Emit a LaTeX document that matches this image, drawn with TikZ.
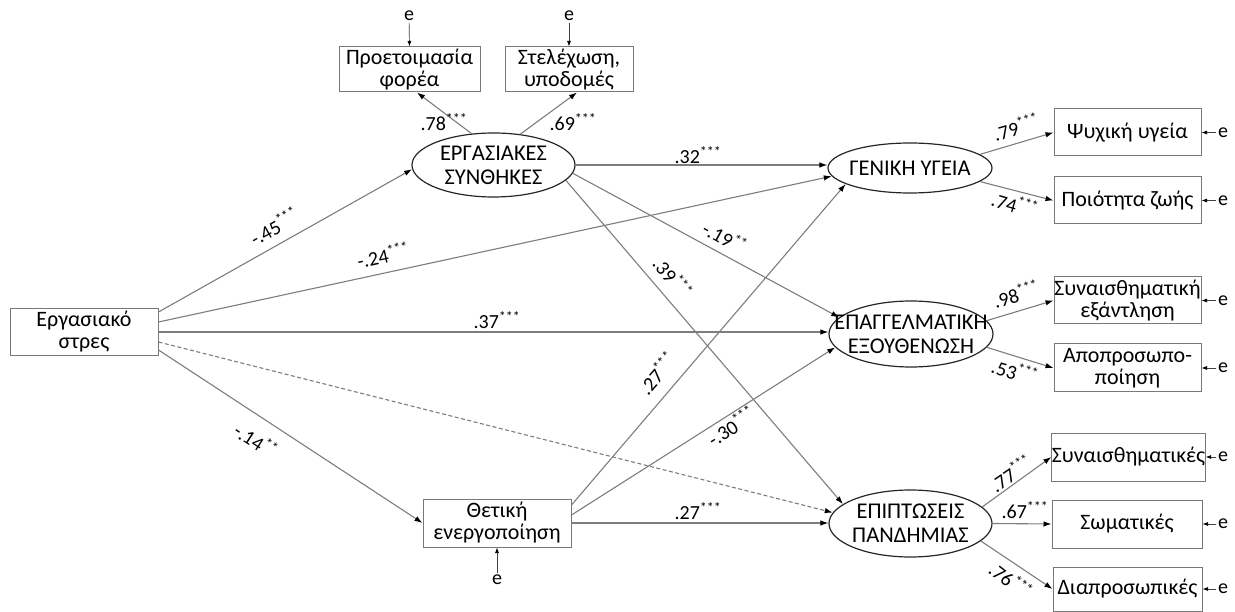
\documentclass[tikz,border=0pt]{standalone}
\usepackage{fontspec}
\setmainfont{Carlito}
\usetikzlibrary{shapes.geometric,arrows.meta}
\definecolor{boxgray}{RGB}{120,120,120}
\definecolor{linegray}{RGB}{125,125,125}
\begin{document}
\begin{tikzpicture}[x=1pt,y=-1pt,
 obs/.style={draw=boxgray, line width=1pt, inner sep=0pt, align=center, font=\fontsize{22}{22}\selectfont},
 lat/.style={ellipse, draw=black!85, line width=1.2pt, inner sep=0pt},
 lattxt/.style={align=center, font=\fontsize{22.5}{24}\selectfont, inner sep=0pt},
 pth/.style={draw=linegray, line width=1.1pt, -{Latex[length=8pt,width=5.5pt,color=black]}},
 coef/.style={font=\fontsize{20}{20}\selectfont, inner sep=0pt},
 err/.style={font=\fontsize{20}{20}\selectfont, inner sep=1.5pt},
 errarr/.style={draw=black!75, line width=0.7pt, -{Latex[length=5.5pt,width=4pt,color=black]}},
]
\useasboundingbox (0,0) rectangle (1235,612);

% observed variables
\node[obs, minimum width=148pt, minimum height=47pt] (stress) at (84,332) {Εργασιακό\\στρες};
\node[obs, minimum width=141pt, minimum height=45pt] (proet) at (409.5,69.5) {Προετοιμασία\\φορέα};
\node[obs, minimum width=128pt, minimum height=45pt] (stel) at (569,69.5) {Στελέχωση,\\υποδομές};
\node[obs, minimum width=148pt, minimum height=48pt] (thet) at (497,523) {Θετική\\ενεργοποίηση};
\node[obs, minimum width=147pt, minimum height=47pt] (psy) at (1127.5,132.5) {Ψυχική υγεία};
\node[obs, minimum width=147pt, minimum height=47pt] (poi) at (1127.5,200.5) {Ποιότητα ζωής};
\node[obs, minimum width=147pt, minimum height=47pt] (syn) at (1127.5,300.5) {Συναισθηματική\\εξάντληση};
\node[obs, minimum width=147pt, minimum height=48pt] (apo) at (1127.5,368) {Αποπροσωπο-\\ποίηση};
\node[obs, minimum width=151pt, minimum height=48pt] (syna) at (1128.5,457) {Συναισθηματικές};
\node[obs, minimum width=150pt, minimum height=48pt] (som) at (1127,524) {Σωματικές};
\node[obs, minimum width=149pt, minimum height=44pt] (dia) at (1127.5,589) {Διαπροσωπικές};

% latent variables
\node[lat, minimum width=163pt, minimum height=64pt, label={[lattxt]center:{ΕΡΓΑΣΙΑΚΕΣ\\ΣΥΝΘΗΚΕΣ}}] (erg) at (493.5,165) {};
\node[lat, minimum width=164pt, minimum height=50pt, label={[lattxt]center:{ΓΕΝΙΚΗ ΥΓΕΙΑ}}] (gen) at (910,168) {};
\node[lat, minimum width=164pt, minimum height=66pt, label={[lattxt]center:{ΕΠΑΓΓΕΛΜΑΤΙΚΗ\\ΕΞΟΥΘΕΝΩΣΗ}}] (epag) at (911,334) {};
\node[lat, minimum width=163pt, minimum height=67pt, label={[lattxt]center:{ΕΠΙΠΤΩΣΕΙΣ\\ΠΑΝΔΗΜΙΑΣ}}] (epip) at (910.5,523.5) {};

% error terms
\node[err] (e1) at (409,16) {e};
\node[err] (e2) at (569,16) {e};
\node[err] (e3) at (497,580) {e};
\node[err] (e4) at (1223,132.5) {e};
\node[err] (e5) at (1223,200.5) {e};
\node[err] (e6) at (1223,300.5) {e};
\node[err] (e7) at (1223,368) {e};
\node[err] (e8) at (1223,457) {e};
\node[err] (e9) at (1223,524) {e};
\node[err] (e10) at (1223,589) {e};

\draw[errarr] (e1) -- (proet.north);
\draw[errarr] (e2) -- (stel.north);
\draw[errarr] (e3) -- (thet.south);
\draw[errarr] (e4) -- (psy.east);
\draw[errarr] (e5) -- (poi.east);
\draw[errarr] (e6) -- (syn.east);
\draw[errarr] (e7) -- (apo.east);
\draw[errarr] (e8) -- (syna.east);
\draw[errarr] (e9) -- (som.east);
\draw[errarr] (e10) -- (dia.east);

% structural paths
\draw[pth] ([yshift=20pt]stress.east) -- (erg.183);
\draw[pth] ([yshift=10pt]stress.east) -- (gen.186);
\draw[pth] (stress.east) -- (stress.east -| epag.west);
\draw[pth, dash pattern=on 4pt off 2.5pt] ([yshift=-10pt]stress.east) -- (epip.172);
\draw[pth] ([yshift=-18pt]stress.east) -- (thet.west);

\draw[pth] (erg.125) -- ([xshift=7.5pt]proet.south);
\draw[pth] (erg.49) -- ([xshift=8pt]stel.south);
\draw[pth] (erg.east) -- (erg.east -| gen.west);
\draw[pth] (erg.-6) -- (epag.167);
\draw[pth] (erg.-12) -- (epip.164);

\draw[pth] ([yshift=18pt]thet.east) -- (gen.194);
\draw[pth] ([yshift=8pt]thet.east) -- (epag.190);
\draw[pth] (thet.east) -- (thet.east -| epip.west);

\draw[pth] (gen.11) -- (psy.west);
\draw[pth] (gen.-11) -- (poi.west);
\draw[pth] (epag.10) -- (syn.west);
\draw[pth] (epag.-10) -- (apo.west);
\draw[pth] (epip.13) -- (syna.west);
\draw[pth] (epip.east) -- (som.west);
\draw[pth] (epip.-14) -- (dia.west);

% coefficients
\node[coef, rotate=29.5] (c1) at (274,226) {-.45\textsuperscript{***}};
\node[coef, rotate=12] (c2) at (383,255) {-.24\textsuperscript{***}};
\node[coef] (c3) at (497,320) {.37\textsuperscript{***}};
\node[coef, rotate=-33] (c4) at (256,440) {-.14\textsuperscript{**}};
\node[coef] (c5) at (444,122) {.78\textsuperscript{***}};
\node[coef] (c6) at (573,122) {.69\textsuperscript{***}};
\node[coef] (c7) at (698,155) {.32\textsuperscript{***}};
\node[coef, rotate=-29] (c8) at (725,237) {-.19\textsuperscript{**}};
\node[coef, rotate=-51] (c9) at (673,277) {.39\textsuperscript{***}};
\node[coef, rotate=49] (c10) at (657,373) {.27\textsuperscript{***}};
\node[coef, rotate=33] (c11) at (731,426) {-.30\textsuperscript{***}};
\node[coef] (c12) at (698,511) {.27\textsuperscript{***}};
\node[coef, rotate=16] (c13) at (1016,127) {.79\textsuperscript{***}};
\node[coef, rotate=-16] (c14) at (1015,204) {.74\textsuperscript{***}};
\node[coef, rotate=16] (c15) at (1016,294) {.98\textsuperscript{***}};
\node[coef, rotate=-16] (c16) at (1015,371) {.53\textsuperscript{***}};
\node[coef, rotate=34] (c17) at (1011,473) {.77\textsuperscript{***}};
\node[coef] (c18) at (1025,510) {.67\textsuperscript{***}};
\node[coef, rotate=-38] (c19) at (1011,580) {.76\textsuperscript{***}};
\end{tikzpicture}
\end{document}
